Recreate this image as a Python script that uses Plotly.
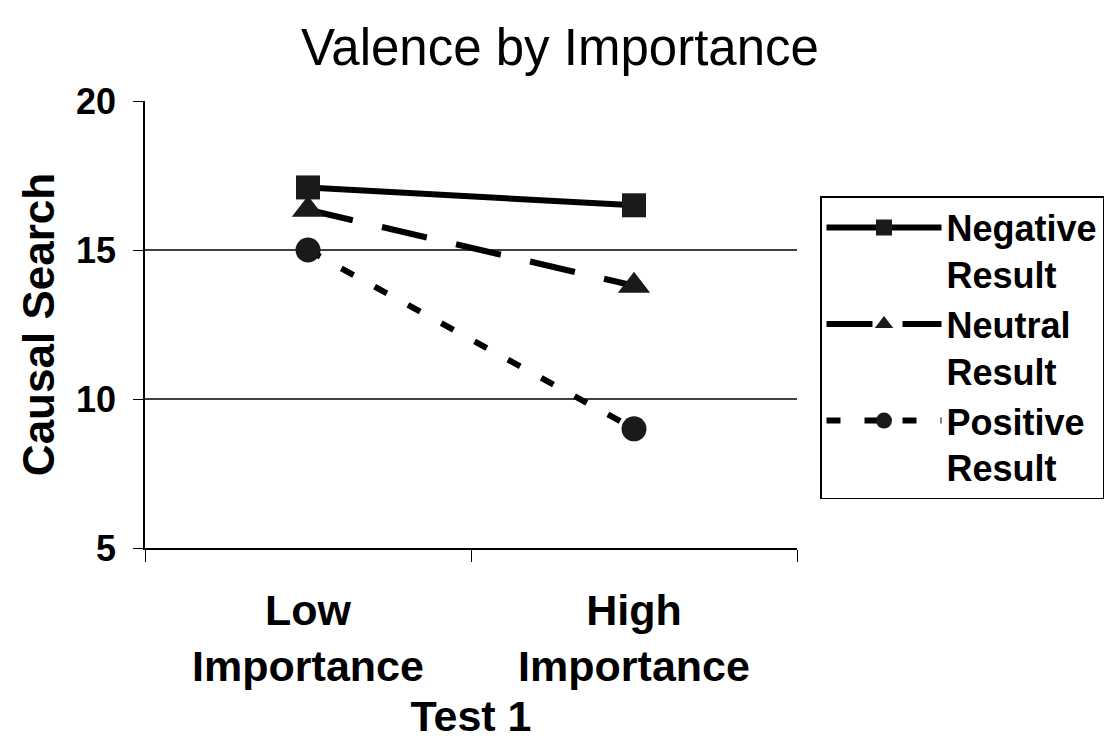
import plotly.graph_objects as go

categories = ["<b>Low</b><br><b>Importance</b>", "<b>High</b><br><b>Importance</b>"]
negative = [17.1, 16.5]
neutral = [16.35, 13.8]
positive = [15.0, 9.0]
series_names = ["<b>Negative</b><br><b>Result</b>", "<b>Neutral</b><br><b>Result</b>", "<b>Positive</b><br><b>Result</b>"]
y_ticks = [5, 10, 15, 20]
grid_values = [10, 15]

FONT = "Liberation Sans, Arial, sans-serif"
fig = go.Figure()
styles = [
    ("solid", "square", 24),
    ("46px,30px", "triangle-up", 28),
    ("14px,24px", "circle", 25),
]
for name, vals, (dash, sym, size) in zip(series_names, [negative, neutral, positive], styles):
    fig.add_trace(go.Scatter(
        x=categories, y=vals, name=name, mode="lines+markers",
        line=dict(color="black", width=6, dash=dash),
        marker=dict(symbol=sym, size=size, color="#1a1a1a", line=dict(width=0)),
    ))

for v in grid_values:
    fig.add_hline(y=v, line=dict(color="black", width=1.5), layer="below")

fig.update_layout(
    width=1110, height=744,
    margin=dict(l=145, r=313, t=101, b=196, autoexpand=False),
    paper_bgcolor="white", plot_bgcolor="white",
    font=dict(family=FONT, color="black"),
    title=dict(text="Valence by Importance", x=(560)/1110, xanchor="center",
               y=1 - 47/744, yanchor="middle", font=dict(size=51, family=FONT)),
    showlegend=True,
    legend=dict(x=(820-145)/652, xanchor="left", y=(548-196)/447, yanchor="top",
                font=dict(size=36, family=FONT), bordercolor="black", borderwidth=1.5,
                bgcolor="white", itemwidth=115, tracegroupgap=0, valign="top"),
)
fig.update_xaxes(type="category", tickson="boundaries", range=[-0.5, 1.5],
                 showline=True, linecolor="black", linewidth=1.5,
                 ticks="outside", ticklen=12, tickcolor="black",
                 tickfont=dict(size=43, family=FONT), ticklabelstandoff=24,
                 title=dict(text="<b>Test 1</b>", font=dict(size=43, family=FONT), standoff=12),
                 showgrid=False, zeroline=False)
fig.update_yaxes(range=[5, 20], tickvals=y_ticks,
                 ticktext=[f"<b>{t}</b>" for t in y_ticks],
                 showline=True, linecolor="black", linewidth=1.5,
                 ticks="outside", ticklen=10, tickcolor="black",
                 tickfont=dict(size=36, family=FONT), ticklabelstandoff=10,
                 title=dict(text="<b>Causal Search</b>", font=dict(size=44, family=FONT), standoff=8),
                 showgrid=False, zeroline=False)

fig.write_html("out.html")
